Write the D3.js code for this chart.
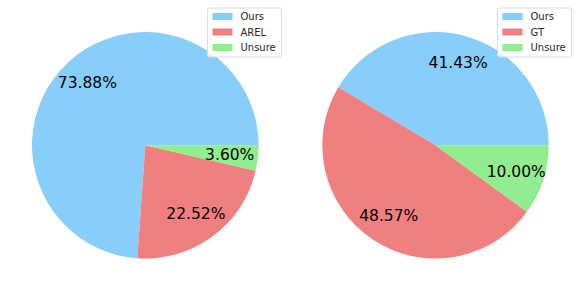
<!DOCTYPE html>
<html><head><meta charset="utf-8">
<script src="https://cdn.jsdelivr.net/npm/d3@7"></script>
<style>body{margin:0;background:#fff}svg{display:block}</style>
</head><body>
<svg id="c" width="581" height="291"></svg>
<script>
const categoriesLeft = ["Ours", "AREL", "Unsure"];
const valuesLeft = [73.88, 22.52, 3.60];
const categoriesRight = ["Ours", "GT", "Unsure"];
const valuesRight = [41.43, 48.57, 10.00];
const colors = ["#87CEFA", "#F08080", "#90EE90"];

const svg = d3.select("#c");
const font = "DejaVu Sans, sans-serif";

function drawPie(cx, cy, r, cats, vals, legendX) {
  const g = svg.append("g").attr("transform", `translate(${cx},${cy})`);
  const pie = d3.pie().sort(null).startAngle(Math.PI / 2).endAngle(Math.PI / 2 - 2 * Math.PI);
  const arcs = pie(vals);
  const arc = d3.arc().innerRadius(0).outerRadius(r);
  const labelArc = d3.arc().innerRadius(r * 0.75).outerRadius(r * 0.75);
  g.selectAll("path").data(arcs).join("path")
    .attr("d", d => arc({startAngle: Math.min(d.startAngle, d.endAngle), endAngle: Math.max(d.startAngle, d.endAngle)}))
    .attr("fill", (d, i) => colors[i]);
  g.selectAll("text").data(arcs).join("text")
    .attr("x", d => labelArc.centroid(d)[0])
    .attr("y", d => labelArc.centroid(d)[1])
    .attr("text-anchor", "middle")
    .attr("dominant-baseline", "central")
    .attr("font-family", font)
    .attr("font-size", "15.5px")
    .attr("fill", "#000")
    .text(d => d.data.toFixed(2) + "%");

  // legend
  const lg = svg.append("g").attr("transform", `translate(${legendX},8)`);
  lg.append("rect").attr("x", 0).attr("y", 0).attr("width", 74).attr("height", 49)
    .attr("rx", 2).attr("fill", "#fff").attr("fill-opacity", 0.8)
    .attr("stroke", "#dcdcdc").attr("stroke-width", 1);
  cats.forEach((c, i) => {
    const yy = 8.5 + i * 15.5;
    lg.append("rect").attr("x", 5).attr("y", yy - 3.5).attr("width", 20).attr("height", 7).attr("fill", colors[i]);
    lg.append("text").attr("x", 33).attr("y", yy).attr("dominant-baseline", "central")
      .attr("font-family", font).attr("font-size", "10px").attr("fill", "#262626").text(c);
  });
}

drawPie(145.3, 145.3, 113.3, categoriesLeft, valuesLeft, 207.5);
drawPie(435.5, 145.3, 113.2, categoriesRight, valuesRight, 497.5);
</script>
</body></html>
